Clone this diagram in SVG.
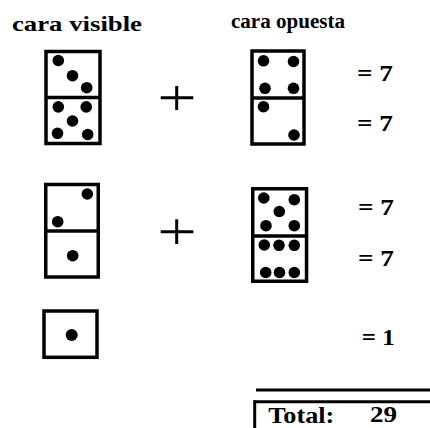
<svg xmlns="http://www.w3.org/2000/svg" width="430" height="428" viewBox="0 0 430 428">
<style>
.box{fill:#fff;stroke:#000;stroke-width:3.5}
.div{stroke:#000;stroke-width:3.5}
.pip{fill:#000}
.plus{stroke:#000;stroke-width:3}
.t{font-family:"Liberation Serif","Times New Roman",serif;font-weight:bold;fill:#000}
.rule{stroke:#000;stroke-width:3}
</style>
<rect width="430" height="428" fill="#fff"/>
<text class="t" x="12" y="31" font-size="22" textLength="130" lengthAdjust="spacingAndGlyphs">cara visible</text>
<text class="t" x="231" y="28" font-size="20" textLength="114" lengthAdjust="spacingAndGlyphs">cara opuesta</text>

<g id="domino1">
<rect class="box" x="46" y="51.5" width="54" height="92"/>
<line class="div" x1="46" y1="97.5" x2="100" y2="97.5"/>
<circle class="pip" cx="58.3" cy="60.5" r="5.8"/>
<circle class="pip" cx="72.5" cy="75.7" r="5.8"/>
<circle class="pip" cx="86.7" cy="87.7" r="5.8"/>
<circle class="pip" cx="58.3" cy="106.9" r="5.8"/>
<circle class="pip" cx="86.2" cy="106.9" r="5.8"/>
<circle class="pip" cx="72.5" cy="121" r="5.8"/>
<circle class="pip" cx="57.5" cy="133.3" r="5.8"/>
<circle class="pip" cx="87.7" cy="134.5" r="5.8"/>
</g>

<g id="plus1"><line class="plus" x1="160.7" y1="97.7" x2="193.3" y2="97.7"/><line class="plus" x1="176.7" y1="86" x2="176.7" y2="110"/></g>

<g id="domino2">
<rect class="box" x="252" y="51" width="52" height="93"/>
<line class="div" x1="252" y1="98" x2="304" y2="98"/>
<circle class="pip" cx="263.5" cy="60.8" r="5.8"/>
<circle class="pip" cx="293.5" cy="61.5" r="5.8"/>
<circle class="pip" cx="265" cy="88.3" r="5.8"/>
<circle class="pip" cx="293.5" cy="88.3" r="5.8"/>
<circle class="pip" cx="263.5" cy="106.7" r="5.8"/>
<circle class="pip" cx="294" cy="135" r="5.8"/>
</g>

<text class="t" x="357" y="81" font-size="24" textLength="36" lengthAdjust="spacingAndGlyphs">= 7</text>
<text class="t" x="357" y="131" font-size="24" textLength="36" lengthAdjust="spacingAndGlyphs">= 7</text>

<g id="domino3">
<rect class="box" x="45.75" y="184.5" width="52.5" height="92.5"/>
<line class="div" x1="45.75" y1="231" x2="98.25" y2="231"/>
<circle class="pip" cx="87.3" cy="194" r="5.8"/>
<circle class="pip" cx="57.7" cy="221.7" r="5.8"/>
<circle class="pip" cx="72.7" cy="255.7" r="5.8"/>
</g>

<g id="plus2"><line class="plus" x1="160.7" y1="231.7" x2="193.3" y2="231.7"/><line class="plus" x1="176.7" y1="219.3" x2="176.7" y2="244"/></g>

<g id="domino4">
<rect class="box" x="252.75" y="188.75" width="53.8" height="92.5"/>
<line class="div" x1="252.75" y1="236" x2="306.55" y2="236"/>
<circle class="pip" cx="263.8" cy="198" r="5.8"/>
<circle class="pip" cx="294.3" cy="199.7" r="5.8"/>
<circle class="pip" cx="279.3" cy="211.5" r="5.8"/>
<circle class="pip" cx="266" cy="225.7" r="5.8"/>
<circle class="pip" cx="294.3" cy="225.7" r="5.8"/>
<circle class="pip" cx="264.3" cy="245" r="5.8"/>
<circle class="pip" cx="279" cy="245.3" r="5.8"/>
<circle class="pip" cx="294.3" cy="245.3" r="5.8"/>
<circle class="pip" cx="265.7" cy="272.5" r="5.8"/>
<circle class="pip" cx="279.5" cy="272.5" r="5.8"/>
<circle class="pip" cx="294.3" cy="272.5" r="5.8"/>
</g>

<text class="t" x="358" y="215" font-size="24" textLength="36" lengthAdjust="spacingAndGlyphs">= 7</text>
<text class="t" x="358" y="266" font-size="24" textLength="36" lengthAdjust="spacingAndGlyphs">= 7</text>

<g id="die5">
<rect class="box" x="44" y="311" width="53" height="46.3"/>
<circle class="pip" cx="71.7" cy="335" r="6"/>
</g>

<text class="t" x="361.7" y="345" font-size="24" textLength="33" lengthAdjust="spacingAndGlyphs">= 1</text>

<g id="total">
<line class="rule" x1="256" y1="390" x2="430" y2="390"/>
<line class="rule" x1="254.7" y1="401.7" x2="430" y2="401.7"/>
<line class="rule" x1="254.7" y1="400.2" x2="254.7" y2="428"/>
<text class="t" x="268.3" y="423" font-size="23" textLength="66" lengthAdjust="spacingAndGlyphs">Total:</text>
<text class="t" x="370" y="422" font-size="23" textLength="27" lengthAdjust="spacingAndGlyphs">29</text>
</g>
</svg>
